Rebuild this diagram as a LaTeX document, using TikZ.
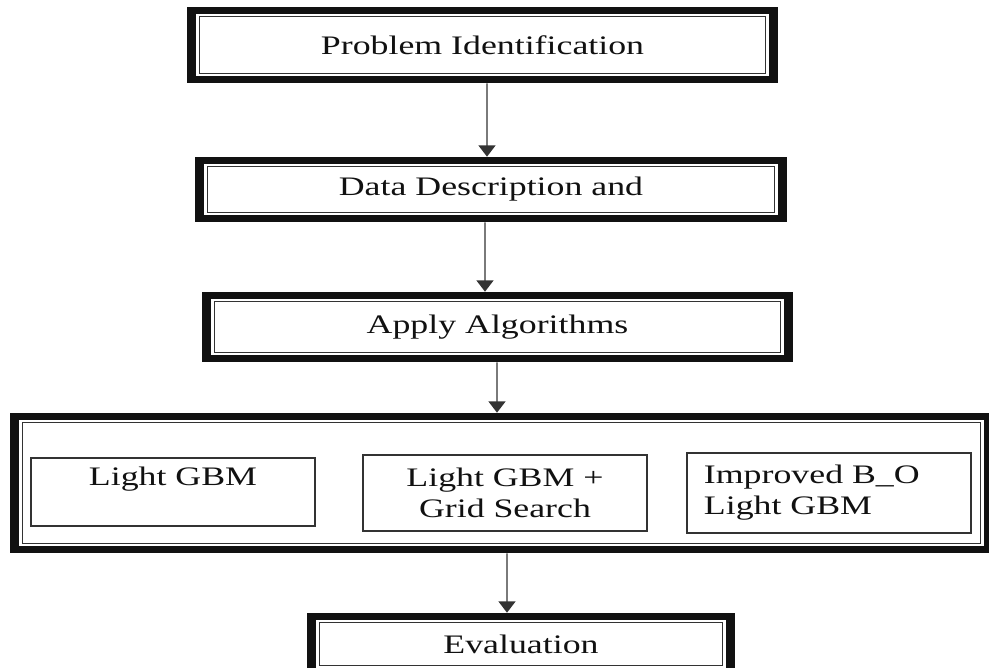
\documentclass[tikz,border=0pt]{standalone}
\usepackage{fontspec}
\setmainfont{Liberation Serif}[FakeStretch=1.34]
\usetikzlibrary{arrows.meta,positioning}
\definecolor{ink}{HTML}{111111}
\definecolor{edge}{HTML}{333333}
\tikzset{
  stepbox/.style={
    fill=ink,inner sep=0pt,align=center,text=ink,
    font=\fontsize{19}{22}\selectfont,
    path picture={
      \fill[white] ([shift={(.235cm,.17cm)}]path picture bounding box.south west)
        rectangle ([shift={(-.235cm,-.17cm)}]path picture bounding box.north east);
      \draw[edge,line width=1pt] ([shift={(.32cm,.24cm)}]path picture bounding box.south west)
        rectangle ([shift={(-.32cm,-.24cm)}]path picture bounding box.north east);
    }
  },
  algbox/.style={
    draw=edge,line width=1pt,fill=white,text=ink,
    inner xsep=.425cm,inner ysep=0pt,text width=6.25cm,
    font=\fontsize{19}{22}\selectfont
  },
  arrow/.style={-{Triangle[length=8pt,width=12pt]},draw=edge,line width=.9pt}
}
\begin{document}
\begin{tikzpicture}[x=.025cm,y=-.025cm]
\useasboundingbox (0,0) rectangle (989,668);
\node[stepbox,minimum width=14.775cm,minimum height=1.9cm] (prob) at (482.5,45) {Problem Identification};
\node[stepbox,minimum width=14.8cm,minimum height=1.625cm] (data) at (491,189.5) {Data Description and};
\node[stepbox,minimum width=14.775cm,minimum height=1.75cm] (apply) at (497.5,327) {Apply Algorithms};
\node[stepbox,minimum width=24.575cm,minimum height=3.5cm] (algs) at (501.5,483) {};
\node[stepbox,minimum width=10.7cm,minimum height=1.55cm] (eval) at (521,644) {Evaluation};

% the three models
\node[algbox,align=center,minimum height=1.7cm] (lgbm) at (173,492) {Light GBM\\\phantom{G}};
\node[algbox,align=center,minimum height=1.9cm] (grid) at (505,493) {Light GBM +\\Grid Search};
\node[algbox,align=left,minimum height=2cm] (bo) at (829,493) {Improved B\_O\\Light GBM};

\draw[arrow] ([xshift=.1125cm]prob.south)--([xshift=-.1cm]data.north);
\draw[arrow] ([xshift=-.15cm]data.south)--([xshift=-.3125cm]apply.north);
\draw[arrow] ([xshift=-.0125cm]apply.south)--([xshift=-.1125cm]algs.north);
\draw[arrow] ([xshift=.1375cm]algs.south)--([xshift=-.35cm]eval.north);
\end{tikzpicture}
\end{document}
